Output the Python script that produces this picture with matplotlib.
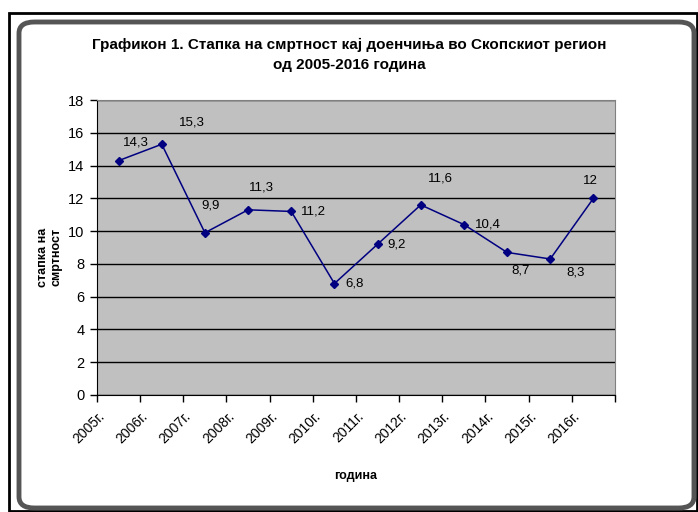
import matplotlib.pyplot as plt
from matplotlib.patches import FancyBboxPatch, Rectangle
from matplotlib.transforms import ScaledTranslation

plt.rcParams['font.family'] = ['Liberation Sans', 'DejaVu Sans']

# data
years = ['2005г.', '2006г.', '2007г.', '2008г.', '2009г.', '2010г.',
         '2011г.', '2012г.', '2013г.', '2014г.', '2015г.', '2016г.']
rates = [14.3, 15.3, 9.9, 11.3, 11.2, 6.8, 9.2, 11.6, 10.4, 8.7, 8.3, 12]

# where each data label sits relative to its point (pixels)
label_offsets = [(17, 18), (30, 22), (6, 27), (13, 22), (22, 0), (20, 0),
                 (19, 0), (20, 26), (24, 0), (13, -18), (25, -14), (-3, 17)]

fig = plt.figure(figsize=(6.98, 5.12), dpi=100)

# frame round the whole chart
fig.patches.append(Rectangle((9 / 698, 1 / 512), 688 / 698, 498.5 / 512,
                             transform=fig.transFigure, fill=False,
                             edgecolor='black', linewidth=2))
fig.patches.append(FancyBboxPatch((19 / 698, 4 / 512), 675 / 698, 486 / 512,
                                  boxstyle='round,pad=0,rounding_size=0.022',
                                  transform=fig.transFigure, fill=False,
                                  edgecolor='#555555', linewidth=3.5))

ax = fig.add_axes([97 / 698, 117 / 512, 518 / 698, 295 / 512])
ax.set_facecolor('#c0c0c0')

x = list(range(len(years)))
ax.plot(x, rates, color='#000080', linewidth=1.1, marker='D', markersize=4.5)

for xi, v, (dx, dy) in zip(x, rates, label_offsets):
    ax.annotate(str(v).replace('.', ','), (xi, v), xytext=(dx, dy),
                textcoords='offset pixels', ha='center', va='center',
                fontsize=9.5, color='black')

ax.set_ylim(0, 18)
ax.set_xlim(-0.5, len(years) - 0.5)
ax.set_yticks(range(0, 19, 2))
ax.yaxis.grid(True, color='black', linewidth=1)
ax.set_axisbelow(True)
ax.tick_params(axis='y', labelsize=10.5, length=5, width=1, pad=4)

# tick marks between categories, labels under the categories
ax.set_xticks([i - 0.5 for i in range(len(years) + 1)])
ax.set_xticklabels([])
ax.set_xticks(x, minor=True)
ax.set_xticklabels(years, minor=True, rotation=45, ha='right',
                   rotation_mode='anchor', fontsize=10)
ax.tick_params(axis='x', which='major', length=5, width=1)
ax.tick_params(axis='x', which='minor', length=0, pad=10)
shift = ScaledTranslation(-21 / 100, 0, fig.dpi_scale_trans)
for lbl in ax.xaxis.get_minorticklabels():
    lbl.set_transform(lbl.get_transform() + shift)

for side in ['top', 'right']:
    ax.spines[side].set_color('#808080')
ax.spines['left'].set_color('black')
ax.spines['bottom'].set_color('black')

fig.text(0.5, 1 - 45 / 512,
         'Графикон 1. Стапка на смртност кај доенчиња во Скопскиот регион',
         ha='center', va='center', fontsize=11, fontweight='bold')
fig.text(0.5, 1 - 65 / 512, 'од 2005-2016 година',
         ha='center', va='center', fontsize=11, fontweight='bold')
fig.text(50 / 698, 1 - 257 / 512, 'стапка на\nсмртност', rotation=90,
         ha='center', va='center', multialignment='center',
         fontsize=9, fontweight='bold')
fig.text(356 / 698, 1 - 476 / 512, 'година', ha='center', va='center',
         fontsize=9, fontweight='bold')

fig.savefig('out.png', dpi=100)
